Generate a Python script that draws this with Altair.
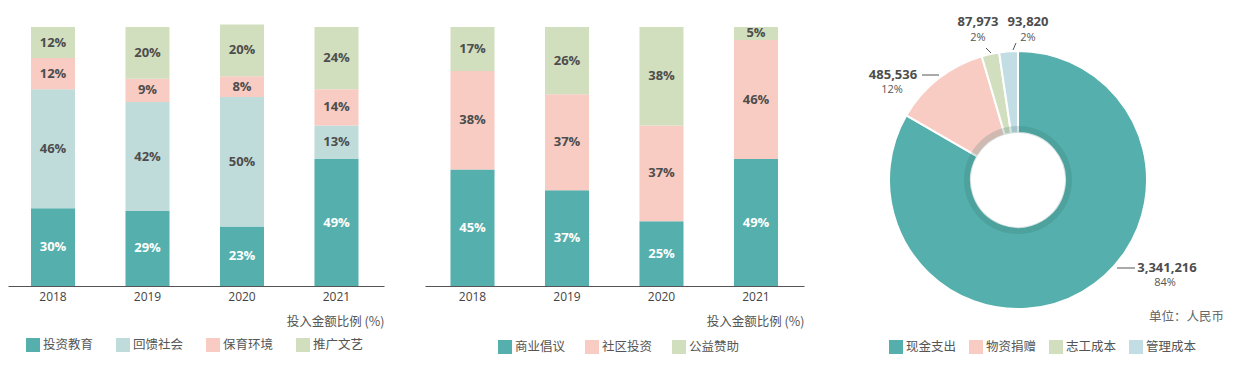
import altair as alt
import pandas as pd

# ---------------- data ----------------
years = ["2018", "2019", "2020", "2021"]

cats1 = ["投资教育", "回馈社会", "保育环境", "推广文艺"]
edu = [30, 29, 23, 49]
community = [46, 42, 50, 13]
environment = [12, 9, 8, 14]
culture = [12, 20, 20, 24]

cats2 = ["商业倡议", "社区投资", "公益赞助"]
business = [45, 37, 25, 49]
invest = [38, 37, 37, 46]
sponsor = [17, 26, 38, 5]

cats3 = ["现金支出", "物资捐赠", "志工成本", "管理成本"]
amounts = [3341216, 485536, 87973, 93820]
amount_labels = ["3,341,216", "485,536", "87,973", "93,820"]
pct_labels = ["84%", "12%", "2%", "2%"]

# ---------------- styles / layout ----------------
colors1 = ["#55afac", "#bfdcda", "#f8ccc3", "#d2dfbf"]
colors2 = ["#55afac", "#f8ccc3", "#d2dfbf"]
colors3 = ["#55afac", "#f8ccc3", "#d2dfbf", "#c2dde4"]
TXT = "#555555"
CJK = "Noto Sans CJK SC"
NUM = "Open Sans"
H = 278
YMAX = 107.34


def long_df(cats, series):
    rows = []
    for k, (c, vals) in enumerate(zip(cats, series)):
        for y, v in zip(years, vals):
            rows.append({"year": y, "cat": c, "k": k, "value": v, "label": f"{v}%"})
    return pd.DataFrame(rows)


df1 = long_df(cats1, [edu, community, environment, culture])
df2 = long_df(cats2, [business, invest, sponsor])


def bar_panel(df, cats, colors, width, po, align, lx, ly, colpad):
    base = alt.Chart(df).transform_stack(
        stack="value", groupby=["year"], as_=["y0", "y1"],
        sort=[alt.SortField("k", order="ascending")],
    ).transform_calculate(mid="(datum.y0 + datum.y1) / 2")
    x = alt.X(
        "year:N",
        sort=years,
        scale=alt.Scale(paddingInner=0.534, paddingOuter=po, align=align),
        axis=alt.Axis(
            domainColor="#555555", domainWidth=1.2, ticks=False, grid=False,
            labelAngle=0, labelFont=NUM, labelFontSize=12, labelColor="#444444",
            labelPadding=5, titleFont=CJK, titleFontSize=12.5,
            titleFontWeight="normal", titleColor=TXT, titleX=width, titleY=35,
            titleAlign="right", titleBaseline="middle", titleAngle=0,
        ),
        title="投入金额比例 (%)",
    )
    yscale = alt.Scale(domain=[0, YMAX], nice=False, zero=True)
    bars = base.mark_bar().encode(
        x=x,
        y=alt.Y("y0:Q", scale=yscale, axis=None),
        y2="y1:Q",
        color=alt.Color(
            "cat:N",
            scale=alt.Scale(domain=cats, range=colors),
            title=None,
            legend=alt.Legend(
                orient="none", legendX=lx, legendY=ly, direction="horizontal",
                columns=len(cats), symbolType="square", symbolSize=196,
                symbolStrokeWidth=0, labelFont=CJK, labelFontSize=12.5,
                labelColor=TXT, labelOffset=3, columnPadding=colpad, padding=0,
            ),
        ),
    )
    text = base.mark_text(font=NUM, fontWeight="bold", fontSize=13, baseline="middle").encode(
        x=x,
        y=alt.Y("mid:Q", scale=yscale, axis=None),
        text="label:N",
        color=alt.condition("datum.k == 0", alt.value("white"), alt.value("#4d4d4d")),
    )
    return alt.layer(bars, text).properties(width=width, height=H)


p1 = bar_panel(df1, cats1, colors1, 376, 0.2566, 0.474, 18, 330, 22)
p2 = bar_panel(df2, cats2, colors2, 379, 0.2725, 0.495, 73, 332, 19)

# ---------------- donut ----------------
df3 = pd.DataFrame({"cat": cats3, "k": list(range(4)), "value": amounts})
CX, CY = 173, 172

arcs = alt.Chart(df3).mark_arc(
    outerRadius=129, innerRadius=47, stroke="white", strokeWidth=2
).encode(
    theta=alt.Theta("value:Q", stack=True),
    order=alt.Order("k:Q"),
    color=alt.Color(
        "cat:N",
        scale=alt.Scale(domain=cats3, range=colors3),
        title=None,
        legend=alt.Legend(
            orient="none", legendX=44, legendY=332, direction="horizontal",
            columns=4, symbolType="square", symbolSize=196, symbolStrokeWidth=0,
            labelFont=CJK, labelFontSize=12.5, labelColor=TXT, labelOffset=3,
            columnPadding=12, padding=0,
        ),
    ),
    x=alt.value(CX),
    y=alt.value(CY),
)

ring = alt.Chart(pd.DataFrame({"r": [0]})).mark_arc(
    innerRadius=47, outerRadius=54, theta=0, theta2=6.2832,
    color="#2e6e6b", opacity=0.2,
).encode(x=alt.value(CX), y=alt.value(CY))

# annotation anchor positions (pixels inside the donut panel)
ann_x = [322, 48, 133, 183]
val_y = [260, 67, 14, 14]
pct_x = [320, 47, 133, 183]
pct_y = [275, 82, 30, 30]
lead_x = [272, 77, 141, 171]
lead_y = [260, 67, 40, 35]
lead_x2 = [290, 94, 146, 168]
lead_y2 = [260, 67, 45, 42]

ann = pd.DataFrame({
    "val": amount_labels, "pct": pct_labels,
    "vx": ann_x, "vy": val_y, "px": pct_x, "py": pct_y,
    "lx": lead_x, "ly": lead_y, "lx2": lead_x2, "ly2": lead_y2,
})

val_text = alt.Chart(ann).mark_text(
    font=NUM, fontWeight="bold", fontSize=13, color="#4d4d4d", baseline="middle"
).encode(x=alt.X("vx:Q", scale=None), y=alt.Y("vy:Q", scale=None), text="val:N")

pct_text = alt.Chart(ann).mark_text(
    font=NUM, fontSize=11, color=TXT, baseline="middle"
).encode(x=alt.X("px:Q", scale=None), y=alt.Y("py:Q", scale=None), text="pct:N")

leaders = alt.Chart(ann).mark_rule(color="#555555", strokeWidth=1).encode(
    x=alt.X("lx:Q", scale=None), y=alt.Y("ly:Q", scale=None),
    x2="lx2:Q", y2="ly2:Q",
)

unit = alt.Chart(pd.DataFrame({"t": ["单位：人民币"]})).mark_text(
    font=CJK, fontSize=12.5, color="#666666", align="right", baseline="middle"
).encode(x=alt.value(379), y=alt.value(309), text="t:N")

p3 = alt.layer(arcs, ring, leaders, val_text, pct_text, unit).properties(width=385, height=H)

chart = alt.hconcat(p1, p2, p3, spacing=41, bounds="flush").resolve_scale(
    color="independent"
).properties(padding=0).configure_view(stroke=None)

chart.save("out.html", embed_options={"renderer": "svg", "actions": False})
